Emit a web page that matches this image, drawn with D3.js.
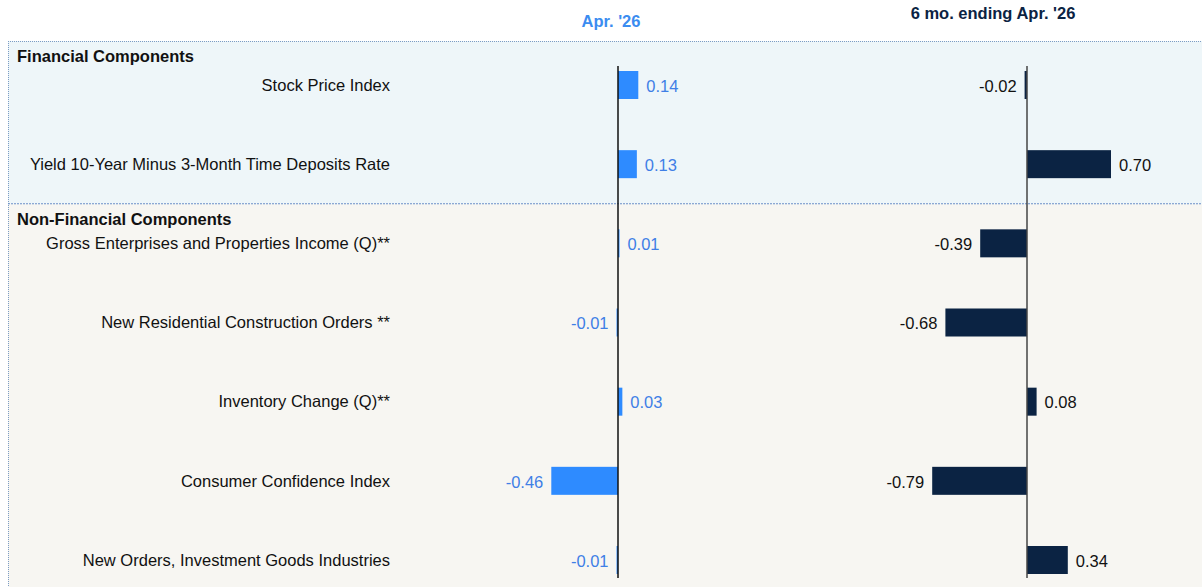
<!DOCTYPE html>
<html>
<head>
<meta charset="utf-8">
<script src="https://cdn.jsdelivr.net/npm/d3@7"></script>
<style>
	body { margin: 0; background: #fff; }
	svg text { font-family: "Liberation Sans", Arial, sans-serif; }
</style>
</head>
<body>
<div id="chart"></div>
<script>
// data
var categories = [
	"Stock Price Index",
	"Yield 10-Year Minus 3-Month Time Deposits Rate",
	"Gross Enterprises and Properties Income (Q)**",
	"New Residential Construction Orders **",
	"Inventory Change (Q)**",
	"Consumer Confidence Index",
	"New Orders, Investment Goods Industries"
];
var monthValues    = [0.14, 0.13, 0.01, -0.01, 0.03, -0.46, -0.01];
var sixMonthValues = [-0.02, 0.70, -0.39, -0.68, 0.08, -0.79, 0.34];
var groupTitles    = ["Financial Components", "Non-Financial Components"];
var groupSizes     = [2, 5];
var columnTitles   = ["Apr. '26", "6 mo. ending Apr. '26"];

var width = 1202, height = 587;
var fs = 16.5;

var fmt = d3.formatLocale({decimal: '.', thousands: ',', grouping: [3], currency: ['$', ''], minus: '-'}).format('.2f');

var svg = d3.select('#chart').append('svg')
	.attr('width', width)
	.attr('height', height);

var y = d3.scalePoint()
	.domain(categories)
	.range([85, 560]);

var xL = d3.scaleLinear().domain([-1, 1]).range([618 - 145, 618 + 145]);
var xR = d3.scaleLinear().domain([-1, 1]).range([1027 - 120, 1027 + 120]);

var barH = 28;

// panels
var top0 = y(categories[0]) - 44;
var split = (y(categories[groupSizes[0] - 1]) + y(categories[groupSizes[0]])) / 2;

svg.append('rect')
	.attr('x', 8).attr('y', top0)
	.attr('width', width - 8).attr('height', split - top0)
	.attr('fill', '#eef6f9');
svg.append('rect')
	.attr('x', 8).attr('y', split)
	.attr('width', width - 8).attr('height', height - split)
	.attr('fill', '#f7f6f2');

svg.append('line')
	.attr('x1', 8).attr('x2', width).attr('y1', top0 + 0.5).attr('y2', top0 + 0.5)
	.attr('stroke', '#7c9cc4').attr('stroke-dasharray', '1,1');
svg.append('line')
	.attr('x1', 8.5).attr('x2', 8.5).attr('y1', top0).attr('y2', height)
	.attr('stroke', '#7c9cc4').attr('stroke-dasharray', '1,1');
svg.append('line')
	.attr('x1', 8).attr('x2', width).attr('y1', split).attr('y2', split)
	.attr('stroke', '#6a8fc9').attr('stroke-dasharray', '2,1');

// group titles
svg.append('text')
	.attr('x', 17).attr('y', top0 + 15)
	.attr('dy', '0.35em')
	.attr('font-size', fs).attr('font-weight', 'bold')
	.attr('fill', '#111')
	.text(groupTitles[0]);
svg.append('text')
	.attr('x', 17).attr('y', split + 15)
	.attr('dy', '0.35em')
	.attr('font-size', fs).attr('font-weight', 'bold')
	.attr('fill', '#111')
	.text(groupTitles[1]);

// column titles
svg.append('text')
	.attr('x', 611).attr('y', 21)
	.attr('text-anchor', 'middle')
	.attr('dy', '0.35em')
	.attr('font-size', fs).attr('font-weight', 'bold')
	.attr('fill', '#3b8cf0')
	.text(columnTitles[0]);
svg.append('text')
	.attr('x', 993).attr('y', 13)
	.attr('text-anchor', 'middle')
	.attr('dy', '0.35em')
	.attr('font-size', fs).attr('font-weight', 'bold')
	.attr('fill', '#0b2343')
	.text(columnTitles[1]);

// category labels
svg.append('g')
	.selectAll('text')
	.data(categories)
	.enter().append('text')
	.attr('x', 390)
	.attr('y', function(d) { return y(d); })
	.attr('dy', '0.35em')
	.attr('text-anchor', 'end')
	.attr('font-size', fs)
	.attr('fill', '#111')
	.text(function(d) { return d; });

function drawSeries(values, x, fill, textFill, axisStroke) {
	var g = svg.append('g');
	var rows = categories.map(function(c, i) { return {cat: c, v: values[i]}; });

	g.selectAll('rect')
		.data(rows)
		.enter().append('rect')
		.attr('x', function(d) { return Math.min(x(0), x(d.v)); })
		.attr('y', function(d) { return y(d.cat) - barH / 2; })
		.attr('width', function(d) { return Math.max(1.5, Math.abs(x(d.v) - x(0))); })
		.attr('height', barH)
		.attr('fill', fill);

	g.selectAll('text')
		.data(rows)
		.enter().append('text')
		.attr('x', function(d) { return d.v < 0 ? x(d.v) - 8 : x(d.v) + 8; })
		.attr('y', function(d) { return y(d.cat) + 1; })
		.attr('dy', '0.35em')
		.attr('text-anchor', function(d) { return d.v < 0 ? 'end' : 'start'; })
		.attr('font-size', fs)
		.attr('fill', textFill)
		.text(function(d) { return fmt(d.v); });

	g.append('line')
		.attr('x1', x(0)).attr('x2', x(0))
		.attr('y1', y(categories[0]) - 19)
		.attr('y2', y(categories[categories.length - 1]) + 18)
		.attr('stroke', axisStroke).attr('stroke-width', 1.5);
}

drawSeries(monthValues, xL, '#2e8bff', '#3f7fe6', '#111');
drawSeries(sixMonthValues, xR, '#0b2343', '#111', '#444');
</script>
</body>
</html>
